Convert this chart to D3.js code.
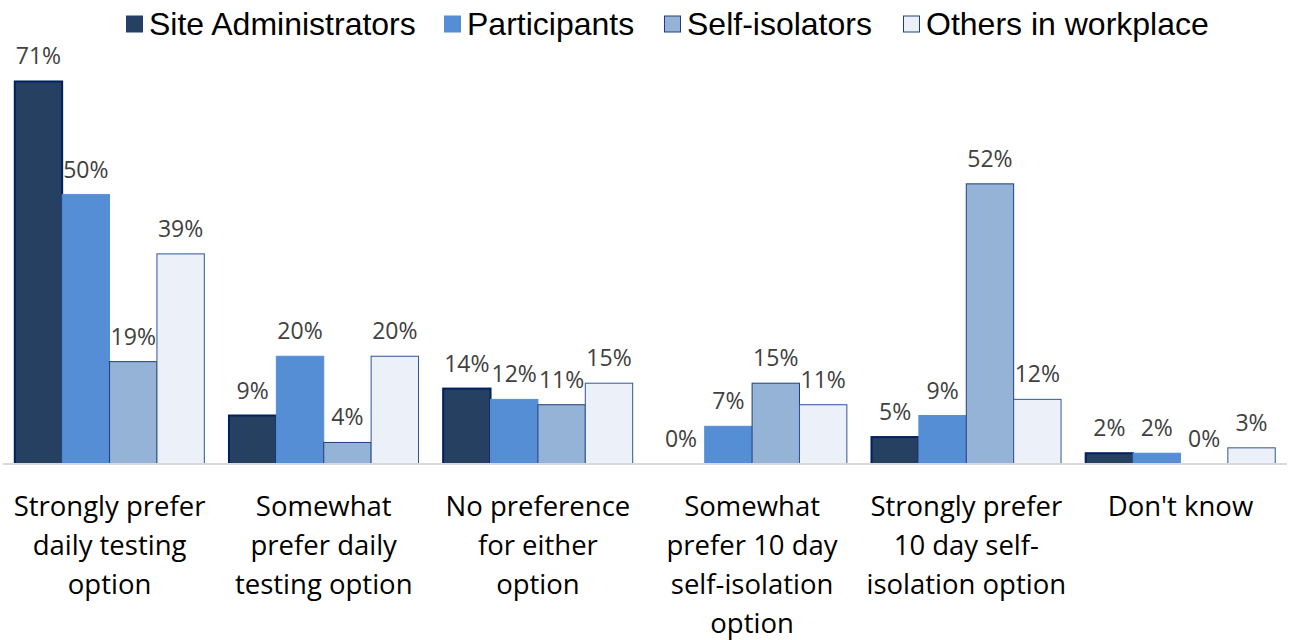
<!DOCTYPE html>
<html>
<head>
<meta charset="utf-8">
<script src="https://cdn.jsdelivr.net/npm/d3@7"></script>
<style>
  body { margin: 0; background: #fff; }
  .legend-text { font-family: "Liberation Sans", Arial, sans-serif; font-size: 32px; fill: #000; }
  .value-label { font-family: "Open Sans", Lato, sans-serif; font-size: 23px; fill: #404040; }
  .x-axis text { font-family: "Open Sans", Lato, sans-serif; font-size: 27.5px; fill: #000; }
</style>
</head>
<body>
<div id="chart"></div>
<script>
  // 1. Data
  const categories = [
    ["Strongly prefer", "daily testing", "option"],
    ["Somewhat", "prefer daily", "testing option"],
    ["No preference", "for either", "option"],
    ["Somewhat", "prefer 10 day", "self-isolation", "option"],
    ["Strongly prefer", "10 day self-", "isolation option"],
    ["Don't know"],
  ]
  const seriesNames = ["Site Administrators", "Participants", "Self-isolators", "Others in workplace"]
  const siteAdministrators = [71, 9, 14, 0, 5, 2]
  const participants = [50, 20, 12, 7, 9, 2]
  const selfIsolators = [19, 4, 11, 15, 52, 0]
  const othersInWorkplace = [39, 20, 15, 11, 12, 3]

  const seriesValues = [siteAdministrators, participants, selfIsolators, othersInWorkplace]
  const fills = ["#264061", "#558ed5", "#95b3d7", "#ebf0f9"]
  const strokes = ["#002060", "#558ed5", "#1f3f7a", "#2f5597"]
  const strokeWidths = [2, 1, 1, 1]

  const dataset = categories.map((c, i) => ({
    key: i,
    label: c,
    values: seriesValues.map((s, j) => ({ series: j, value: s[i] })),
  }))

  // 2. Dimensions
  let dimensions = {
    width: 1290,
    height: 640,
    margin: { top: 33, right: 3, bottom: 176, left: 3 },
  }
  dimensions.boundedWidth = dimensions.width - dimensions.margin.left - dimensions.margin.right
  dimensions.boundedHeight = dimensions.height - dimensions.margin.top - dimensions.margin.bottom

  // 3. Canvas
  const wrapper = d3.select("#chart")
    .append("svg")
      .attr("width", dimensions.width)
      .attr("height", dimensions.height)

  const bounds = wrapper.append("g")
      .attr("transform", `translate(${dimensions.margin.left}, ${dimensions.margin.top})`)

  // 4. Scales
  const xScale = d3.scaleBand()
    .domain(dataset.map(d => d.key))
    .range([0, dimensions.boundedWidth])
    .paddingInner(0.115)
    .paddingOuter(0.055)

  const seriesScale = d3.scaleBand()
    .domain(d3.range(seriesNames.length))
    .range([0, xScale.bandwidth()])

  const yScale = d3.scaleLinear()
    .domain([0, 80])
    .range([dimensions.boundedHeight, 0])

  // 5. Bars
  const groups = bounds.selectAll(".group")
    .data(dataset)
    .join("g")
      .attr("class", "group")
      .attr("transform", d => `translate(${xScale(d.key)}, 0)`)

  groups.selectAll("rect")
    .data(d => d.values.filter(v => v.value > 0))
    .join("rect")
      .attr("x", v => seriesScale(v.series))
      .attr("y", v => yScale(v.value))
      .attr("width", seriesScale.bandwidth())
      .attr("height", v => yScale(0) - yScale(v.value))
      .attr("fill", v => fills[v.series])
      .attr("stroke", v => strokes[v.series])
      .attr("stroke-width", v => strokeWidths[v.series])

  groups.selectAll(".value-label")
    .data(d => d.values)
    .join("text")
      .attr("class", "value-label")
      .attr("x", v => seriesScale(v.series) + seriesScale.bandwidth() / 2)
      .attr("y", v => yScale(v.value) - 17)
      .attr("text-anchor", "middle")
      .text(v => `${v.value}%`)

  // 6. Peripherals
  const xAxis = bounds.append("g")
      .attr("class", "x-axis")
      .attr("transform", `translate(0, ${dimensions.boundedHeight})`)

  xAxis.append("line")
      .attr("x1", 0)
      .attr("x2", dimensions.boundedWidth)
      .attr("stroke", "#d9d9d9")
      .attr("stroke-width", 2)

  xAxis.selectAll("text")
    .data(dataset)
    .join("text")
      .attr("x", d => xScale(d.key) + xScale.bandwidth() / 2)
      .attr("y", 52)
      .attr("text-anchor", "middle")
    .selectAll("tspan")
    .data(d => d.label)
    .join("tspan")
      .attr("x", function () { return this.parentNode.getAttribute("x") })
      .attr("dy", (t, i) => i === 0 ? 0 : 39)
      .text(t => t)

  // legend
  const legendX = [126, 444, 664, 903]
  const legend = wrapper.append("g")
    .selectAll("g")
    .data(seriesNames)
    .join("g")
      .attr("transform", (d, i) => `translate(${legendX[i]}, 24)`)

  legend.append("rect")
      .attr("x", 0.5)
      .attr("y", -8)
      .attr("width", 16)
      .attr("height", 16)
      .attr("fill", (d, i) => fills[i])
      .attr("stroke", (d, i) => i === 1 ? "#558ed5" : "#1f3f7a")
      .attr("stroke-width", 1)

  legend.append("text")
      .attr("class", "legend-text")
      .attr("x", 23)
      .attr("y", 11)
      .text(d => d)
</script>
</body>
</html>
